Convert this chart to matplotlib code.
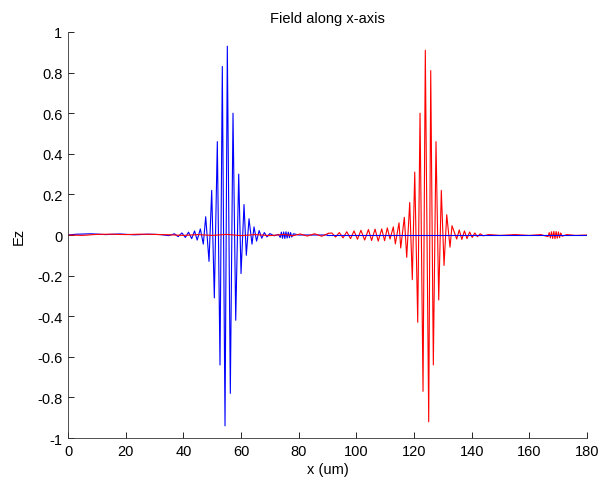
import numpy as np
import matplotlib.pyplot as plt

plt.rcParams['font.family'] = ['Liberation Sans', 'DejaVu Sans']
plt.rcParams['axes.unicode_minus'] = False

# extrema of the blue pulse (x in um, Ez)
blue_x = [0, 3, 8, 13, 18, 23, 28, 32, 35, 36.9, 38.2, 39.5, 40.7, 41.8, 42.9, 43.9, 44.8, 45.9,
          46.93, 47.76, 48.91, 49.84, 50.75, 51.79, 52.72, 53.52, 54.46, 55.26,
          56.30, 57.23, 58.17, 59.21, 60.01, 61.05, 61.85, 62.78, 63.82, 64.52,
          65.4, 66.3, 67.2, 68.1, 69.0, 70.0, 71.5, 73.0,
          73.6, 74.0, 74.4, 74.8, 75.2, 75.6, 76.0, 76.4, 76.8, 77.2, 77.6, 78.2,
          80, 90, 120, 150, 180]
blue_y = [0, 0.004, 0.006, 0.002, 0.005, 0.001, 0.004, 0.002, -0.003, 0.006, -0.008, 0.01, -0.012, 0.014, -0.018, 0.02, -0.025, 0.03,
          -0.045, 0.09, -0.13, 0.22, -0.31, 0.46, -0.64, 0.83, -0.94, 0.93,
          -0.78, 0.60, -0.42, 0.30, -0.19, 0.15, -0.10, 0.08, -0.045, 0.04,
          -0.03, 0.022, -0.016, 0.012, -0.009, 0.007, -0.004, 0.003,
          -0.012, 0.014, -0.016, 0.015, -0.017, 0.016, -0.015, 0.014, -0.013, 0.012, -0.01, 0.006,
          0, 0, 0, 0, 0]

# extrema of the red pulse
red_x = [0, 5, 10, 15, 20, 25, 30, 35, 40, 45, 50, 55, 60, 65, 70, 75, 78, 80.5, 83, 85.5, 88, 90.3,
         91.5, 92.8, 94.1, 95.4, 96.7, 98.0, 99.2, 100.4, 101.6, 102.9, 104.2, 105.3, 106.5, 107.6, 108.8, 109.8,
         110.75, 111.69, 112.84, 113.53, 114.81, 115.40, 116.65, 117.48, 118.52, 119.42, 120.26, 121.30,
         122.10, 123.14, 123.93, 125.11, 125.81, 126.71, 127.64, 128.58, 129.48, 130.42, 131.36, 132.50,
         133.19, 134.82, 135.7, 136.6, 137.5, 138.4, 139.3, 140.2, 141.1, 142.0, 143.0, 144.0,
         146, 150, 155, 160, 164,
         166.5, 166.9, 167.3, 167.7, 168.1, 168.5, 168.9, 169.3, 169.7, 170.1, 170.5, 170.9, 171.4,
         173, 176, 180]
red_y = [0, -0.002, 0.003, 0.004, 0.002, 0.004, 0.003, 0.001, -0.002, 0.002, -0.002, 0.003, -0.003, 0.002, -0.003, 0.003, -0.004, 0.005, -0.005, 0.006, -0.006, 0.008,
         0.01, -0.01, 0.012, -0.014, 0.016, -0.018, 0.02, -0.021, 0.023, -0.025, 0.027, -0.027, 0.029, -0.03, 0.03, -0.028,
         0.035, -0.02, 0.04, -0.044, 0.06, -0.064, 0.087, -0.11, 0.16, -0.22, 0.31, -0.43,
         0.60, -0.77, 0.91, -0.92, 0.81, -0.64, 0.46, -0.32, 0.22, -0.15, 0.10, -0.06,
         0.046, -0.02, 0.025, -0.022, 0.02, -0.018, 0.015, -0.012, 0.01, -0.008, 0.006, -0.004,
         0.002, -0.002, 0.002, -0.002, 0.002,
         -0.008, 0.012, -0.014, 0.016, -0.017, 0.018, -0.018, 0.017, -0.016, 0.015, -0.013, 0.01, -0.006,
         0.002, -0.002, 0]

x_ticks = [0, 20, 40, 60, 80, 100, 120, 140, 160, 180]
y_ticks = [-1, -0.8, -0.6, -0.4, -0.2, 0, 0.2, 0.4, 0.6, 0.8, 1]

bx, by = np.array(blue_x), np.array(blue_y)
rx, ry = np.array(red_x), np.array(red_y)
split = 90
ib = np.searchsorted(bx, split)
ir = np.searchsorted(rx, split)

fig = plt.figure(figsize=(6.05, 4.85), dpi=100)
ax = fig.add_axes([0.1124, 0.0948, 0.8578, 0.8372])

# draw order so the pulse on each half sits under the other colour's baseline
ax.plot(bx[:ib + 1], by[:ib + 1], color='#0000ff', lw=0.8)
ax.plot(rx[:ir + 1], ry[:ir + 1], color='#ff0000', lw=0.8)
ax.plot(rx[ir:], ry[ir:], color='#ff0000', lw=0.8)
ax.plot(bx[ib:], by[ib:], color='#0000ff', lw=0.8)

ax.set_xlim(0, 180)
ax.set_ylim(-1, 1)
ax.set_xticks(x_ticks)
ax.set_yticks(y_ticks)
ax.set_xticklabels([f'{v:g}' for v in x_ticks])
ax.set_yticklabels([f'{v:g}' for v in y_ticks])
ax.tick_params(direction='in', length=4, width=0.6, labelsize=10.5, pad=4)
for s in ['top', 'right']:
    ax.spines[s].set_visible(False)
for s in ['left', 'bottom']:
    ax.spines[s].set_linewidth(0.6)
    ax.spines[s].set_color('#333333')

ax.set_title('Field along x-axis', fontsize=10.5, pad=7)
ax.set_xlabel('x (um)', fontsize=10.5, labelpad=3)
ax.set_ylabel('Ez', fontsize=10.5, labelpad=8)

fig.savefig('out.png', dpi=100)
plt.close(fig)
